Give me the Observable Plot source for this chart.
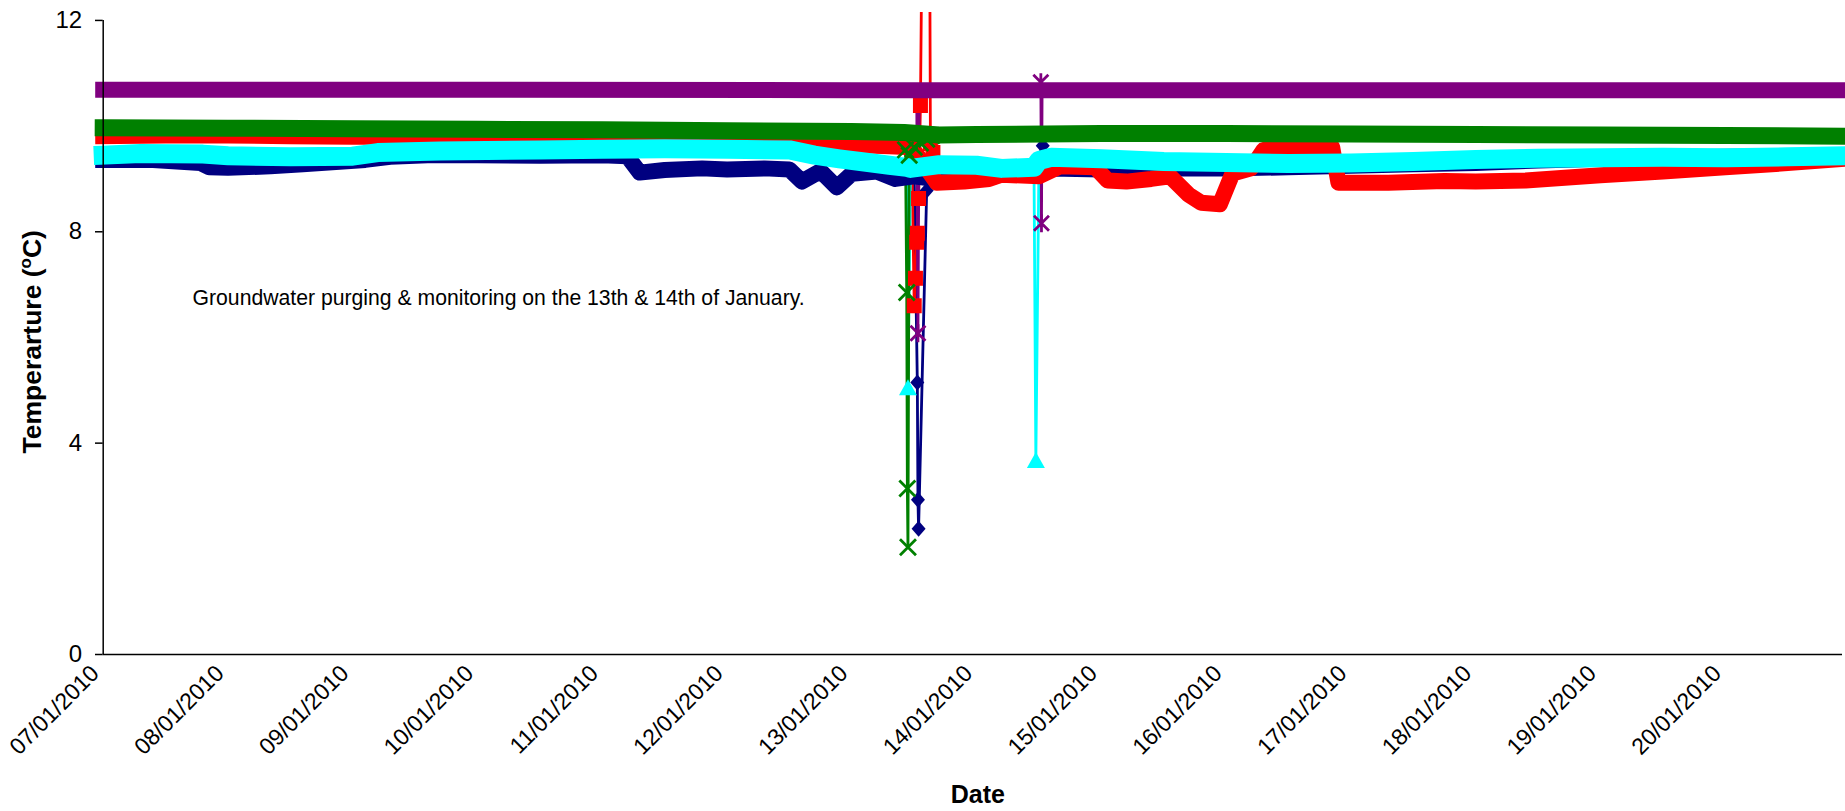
<!DOCTYPE html>
<html><head><meta charset="utf-8">
<script src="https://cdn.jsdelivr.net/npm/d3@7"></script>
<script src="https://cdn.jsdelivr.net/npm/@observablehq/plot@0.6"></script>
<style>html,body{margin:0;padding:0;background:#fff}svg{display:block}</style>
</head><body><div id="chart"></div>
<script>
// ---- data (day offsets from 07/01/2010 00:00, temperature °C) ----
const startDay = Date.UTC(2010, 0, 7);
const endDayOffset = 13.94;
const tickDays = [0,1,2,3,4,5,6,7,8,9,10,11,12,13];
const tickLabels = ["07/01/2010","08/01/2010","09/01/2010","10/01/2010","11/01/2010","12/01/2010","13/01/2010","14/01/2010","15/01/2010","16/01/2010","17/01/2010","18/01/2010","19/01/2010","20/01/2010"];
const yTicks = [0, 4, 8, 12];

const navyBand = [[0,9.36],[0.4,9.36],[0.78,9.3],[0.85,9.22],[1.0,9.21],[1.34,9.24],[1.6,9.28],[2.1,9.36],[2.3,9.42],[2.6,9.45],[3.0,9.45],[3.5,9.44],[4.0,9.45],[4.2,9.43],[4.3,9.12],[4.5,9.17],[4.8,9.2],[5.0,9.18],[5.3,9.2],[5.5,9.18],[5.6,8.95],[5.75,9.15],[5.88,8.84],[6.0,9.1],[6.2,9.14],[6.35,9.0],[6.5,9.05],[6.65,9.0],[7.0,9.05],[7.2,9.08],[7.45,9.1],[7.6,9.2],[8.0,9.18],[8.5,9.2],[9.0,9.2],[9.5,9.22],[10,9.25],[10.5,9.28],[11,9.3],[11.5,9.35],[12,9.38],[12.5,9.4],[13,9.42],[13.5,9.43],[13.94,9.45]];
const navyEvents = [[6.525,5.15],[6.53,2.93],[6.535,2.38],[6.6,8.78],[7.53,9.63]];

const redBand = [[0,9.81],[0.5,9.82],[1,9.82],[1.5,9.81],[2,9.8],[2.5,9.8],[3,9.8],[3.5,9.79],[4,9.78],[4.5,9.77],[5,9.76],[5.5,9.75],[5.72,9.73],[5.8,9.66],[6.0,9.64],[6.3,9.62],[6.48,9.6],[6.68,8.93],[6.9,8.95],[7.1,9.0],[7.2,9.08],[7.5,9.05],[7.67,9.24],[7.95,9.22],[8.05,8.97],[8.2,8.95],[8.4,9.0],[8.55,9.05],[8.7,8.7],[8.8,8.55],[8.95,8.52],[9.05,9.1],[9.2,9.2],[9.3,9.55],[9.5,9.6],[9.85,9.6],[9.9,8.93],[10.3,8.93],[10.75,8.96],[11.0,8.95],[11.4,8.97],[12,9.07],[12.5,9.14],[13,9.22],[13.5,9.3],[13.94,9.38]];
const redEvents = [[6.5,6.6],[6.51,7.12],[6.52,7.8],[6.525,7.97],[6.535,8.63],[6.55,10.39],[6.56,13],[6.625,13],[6.63,9.67],[6.65,9.5]];

const cyanBand = [[0,9.45],[0.3,9.48],[0.8,9.47],[1.0,9.44],[1.5,9.42],[2.0,9.43],[2.2,9.5],[2.7,9.53],[3.5,9.55],[4.0,9.56],[4.5,9.57],[5.0,9.56],[5.5,9.55],[5.7,9.45],[5.9,9.38],[6.1,9.32],[6.3,9.26],[6.44,9.22],[6.47,9.2],[6.7,9.27],[7.0,9.26],[7.2,9.2],[7.46,9.22],[7.5,9.35],[7.6,9.41],[8,9.38],[8.5,9.33],[9,9.31],[9.5,9.29],[10,9.3],[10.5,9.33],[11,9.37],[11.5,9.39],[12,9.4],[12.5,9.41],[13,9.4],[13.5,9.42],[13.94,9.44]];
const cyanEvents = [[6.45,5.05],[7.475,3.67]];

const greenBand = [[0,9.97],[1,9.96],[2,9.95],[3,9.94],[4,9.93],[5,9.91],[6,9.9],[6.42,9.88],[6.7,9.83],[7,9.84],[8,9.86],[9,9.86],[10,9.85],[11,9.84],[12,9.83],[13,9.82],[13.94,9.81]];
const greenEvents = [[6.43,9.55],[6.44,6.85],[6.445,3.14],[6.45,2.03],[6.46,9.45],[6.5,9.6],[6.55,9.68],[6.6,9.75],[6.64,9.82]];

const purpleBand = [[0,10.69],[3,10.69],[6,10.68],[6.52,10.68],[6.54,10.68],[7.51,10.68],[7.525,10.68],[10,10.68],[13.94,10.68]];
const purpleEvents = [[6.53,6.08],[7.515,10.83],[7.52,8.16]];

const annotation = "Groundwater purging & monitoring on the 13th & 14th of January.";
const xTitle = "Date";
const yTitle = "Temperarture (oC)";

// ---- helpers ----
const toDate = d => new Date(startDay + d * 864e5);
const rows = pairs => pairs.map(([d, v]) => ({t: toDate(d), v}));

const symDiamond = {draw(c){c.moveTo(0,-8);c.lineTo(7,0);c.lineTo(0,8);c.lineTo(-7,0);c.closePath();}};
const symSquare = {draw(c){c.moveTo(-7.5,-7.5);c.lineTo(7.5,-7.5);c.lineTo(7.5,7.5);c.lineTo(-7.5,7.5);c.closePath();}};
const symTriangle = {draw(c){c.moveTo(0,-8.5);c.lineTo(9,7.5);c.lineTo(-9,7.5);c.closePath();}};
const symTimes = {draw(c){c.moveTo(-8,-8);c.lineTo(8,8);c.moveTo(8,-8);c.lineTo(-8,8);}};
const symStar = {draw(c){c.moveTo(-7.5,-7.5);c.lineTo(7.5,7.5);c.moveTo(7.5,-7.5);c.lineTo(-7.5,7.5);c.moveTo(0,-9);c.lineTo(0,9);}};

const series = [
  {color:"#000080", band:navyBand, events:navyEvents, sym:symDiamond, filled:true, w:16},
  {color:"#FF0000", band:redBand, events:redEvents, sym:symSquare, filled:true, w:16},
  {color:"#00FFFF", band:cyanBand, events:cyanEvents, sym:symTriangle, filled:true, w:19},
  {color:"#008000", band:greenBand, events:greenEvents, sym:symTimes, filled:false, w:17},
  {color:"#800080", band:purpleBand, events:purpleEvents, sym:symStar, filled:false, w:16}
];

const marks = [];
for (const s of series) {
  const all = rows([...s.band, ...s.events].sort((a, b) => a[0] - b[0]));
  marks.push(Plot.line(all, {x:"t", y:"v", stroke:s.color, strokeWidth:2.8, clip:true}));
}
for (const s of series) {
  marks.push(Plot.line(rows(s.band), {x:"t", y:"v", stroke:s.color, strokeWidth:s.w, strokeLinecap:"square", strokeLinejoin:"round"}));
  marks.push(Plot.dot(rows(s.events), {x:"t", y:"v", symbol:s.sym, r:8, clip:true,
    ...(s.filled ? {fill:s.color, stroke:"none"} : {fill:"none", stroke:s.color, strokeWidth:2.8})}));
}
// axes
marks.push(Plot.ruleY([0], {stroke:"#000", strokeWidth:1.5}));
marks.push(Plot.ruleX([toDate(0)], {y1:() => 0, y2:() => 12, stroke:"#000", strokeWidth:1.5}));
marks.push(Plot.axisY(yTicks, {tickSize:7.7, tickPadding:13.3, fontSize:24, label:null, tickFormat:d => String(d), strokeWidth:1.5}));
marks.push(Plot.text(tickDays, {x:d => toDate(d), y:() => 0, text:(d, i) => tickLabels[i], rotate:-45, textAnchor:"end", dy:15, dx:-8, fontSize:23}));
marks.push(Plot.text([xTitle], {frameAnchor:"bottom", text:d => d, dx:5, dy:148, fontSize:25, fontWeight:"bold"}));
marks.push(Plot.text([yTitle], {frameAnchor:"left", text:d => d, rotate:-90, textAnchor:"start", dx:-70.7, dy:120, fontSize:26.5, fontWeight:"bold"}));
marks.push(Plot.text([annotation], {x:() => toDate(0.716), y:() => 6.74, text:d => d, textAnchor:"start", fontSize:21.2}));

const chart = Plot.plot({
  width:1845, height:811,
  marginLeft:102.7, marginRight:3, marginTop:12, marginBottom:157,
  x:{type:"utc", domain:[toDate(0), toDate(endDayOffset)], axis:null},
  y:{domain:[0, 12.15], axis:null},
  style:{fontFamily:"'Liberation Sans', Arial, sans-serif", color:"#000", background:"#fff"},
  marks
});
// superscript "o" in the y title
chart.querySelectorAll("text").forEach(t => {
  if (t.textContent === yTitle) {
    t.textContent = "";
    const ns = "http://www.w3.org/2000/svg";
    const a = document.createElementNS(ns, "tspan"); a.textContent = "Temperarture (";
    const b = document.createElementNS(ns, "tspan"); b.textContent = "o"; b.setAttribute("font-size", "17"); b.setAttribute("dy", "-10");
    const c = document.createElementNS(ns, "tspan"); c.textContent = "C)"; c.setAttribute("dy", "10");
    t.append(a, b, c);
  }
});
document.getElementById("chart").append(chart);
</script></body></html>
